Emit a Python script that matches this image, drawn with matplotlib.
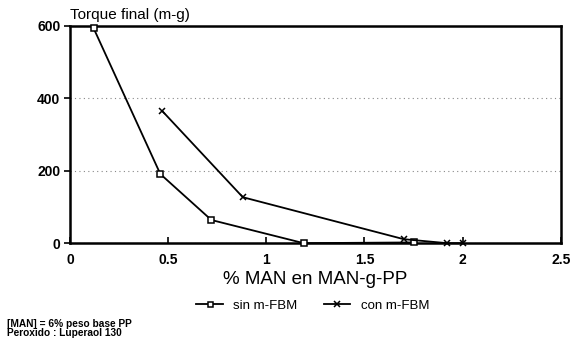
import matplotlib
matplotlib.use("Agg")
import matplotlib.pyplot as plt

# Data: final torque vs % MAN grafted
x_sin = [0.12, 0.46, 0.72, 1.19, 1.75]
y_sin = [594, 191, 64, 0, 2]
x_con = [0.47, 0.88, 1.70, 1.92, 2.00]
y_con = [365, 127, 11, 0, 0]

xticks = [0, 0.5, 1, 1.5, 2, 2.5]
xtick_labels = ["0", "0.5", "1", "1.5", "2", "2.5"]
yticks = [0, 200, 400, 600]

plt.rcParams['font.family'] = ['Liberation Sans', 'DejaVu Sans']

fig = plt.figure(figsize=(5.74, 3.42), dpi=100)
ax = fig.add_axes([0.122, 0.289, 0.855, 0.635])

ax.plot(x_sin, y_sin, color='black', lw=1.3, marker='s', ms=4.5,
        mfc='white', mec='black', mew=1.1, label='sin m-FBM', clip_on=False, zorder=3)
ax.plot(x_con, y_con, color='black', lw=1.3, marker='x', ms=5,
        mew=1.1, label='con m-FBM', clip_on=False, zorder=3)

ax.set_xlim(0, 2.5)
ax.set_ylim(0, 600)
ax.set_xticks(xticks)
ax.set_xticklabels(xtick_labels)
ax.set_yticks(yticks)
ax.yaxis.grid(True, linestyle=(0, (1, 3)), color='#888888', lw=0.8)
ax.set_axisbelow(True)
for s in ax.spines.values():
    s.set_linewidth(1.8)
ax.tick_params(axis='x', direction='in', length=4, width=1.2, labelsize=10, pad=7)
ax.tick_params(axis='y', direction='out', length=4, width=1.2, labelsize=10, pad=3)
for lab in ax.get_xticklabels() + ax.get_yticklabels():
    lab.set_fontweight('bold')

fig.text(0.122, 0.935, "Torque final (m-g)", fontsize=11, ha='left', va='bottom')
ax.set_xlabel("% MAN en MAN-g-PP", fontsize=13.5, labelpad=3)

fig.legend(loc='center', bbox_to_anchor=(0.545, 0.107), ncol=2, frameon=False,
           fontsize=9.5, handlelength=2, columnspacing=2.0, markerscale=0.8)

fig.text(0.012, 0.068, "[MAN] = 6% peso base PP\nPeroxido : Luperaol 130",
         fontsize=7.3, fontweight='bold', ha='left', va='top', linespacing=0.9)

fig.savefig("out.png", dpi=100)
